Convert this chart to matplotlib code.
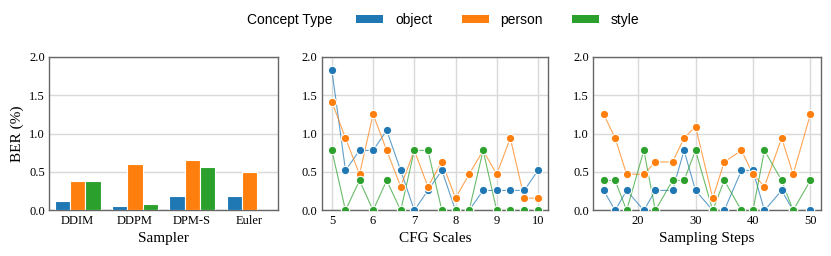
import matplotlib
matplotlib.use("Agg")
import matplotlib.pyplot as plt
import numpy as np
from matplotlib.patches import Patch

# concept types / colours
concepts = ["object", "person", "style"]
colors = ["#1f77b4", "#ff7f0e", "#2ca02c"]

# panel 1: samplers
samplers = ["DDIM", "DDPM", "DPM-S", "Euler"]
sampler_object = [0.12, 0.06, 0.19, 0.19]
sampler_person = [0.38, 0.61, 0.65, 0.50]
sampler_style = [0.38, 0.09, 0.57, 0.0]

# panel 2: CFG scales
cfg = [5.0, 5.33, 5.67, 6.0, 6.33, 6.67, 7.0, 7.33, 7.67, 8.0, 8.33, 8.67, 9.0, 9.33, 9.67, 10.0]
cfg_object = [1.82, 0.52, 0.78, 0.78, 1.04, 0.52, 0.0, 0.26, 0.52, 0.0, 0.0, 0.26, 0.26, 0.26, 0.26, 0.52]
cfg_person = [1.41, 0.94, 0.47, 1.25, 0.78, 0.31, 0.78, 0.31, 0.63, 0.16, 0.47, 0.78, 0.47, 0.94, 0.16, 0.16]
cfg_style = [0.78, 0.0, 0.39, 0.0, 0.39, 0.0, 0.78, 0.78, 0.0, 0.0, 0.0, 0.78, 0.0, 0.0, 0.0, 0.0]

# panel 3: sampling steps
steps = [14, 16, 18, 21, 23, 26, 28, 30, 33, 35, 38, 40, 42, 45, 47, 50]
steps_object = [0.26, 0.0, 0.26, 0.0, 0.26, 0.26, 0.78, 0.26, 0.0, 0.0, 0.52, 0.52, 0.0, 0.26, 0.0, 0.0]
steps_person = [1.25, 0.94, 0.47, 0.47, 0.63, 0.63, 0.94, 1.09, 0.16, 0.63, 0.78, 0.47, 0.31, 0.94, 0.47, 1.25]
steps_style = [0.39, 0.39, 0.0, 0.78, 0.0, 0.39, 0.39, 0.78, 0.0, 0.39, 0.0, 0.0, 0.78, 0.39, 0.0, 0.39]

serif = ["Liberation Serif", "DejaVu Serif"]
plt.rcParams["font.family"] = serif
plt.rcParams["axes.edgecolor"] = "0.4"
plt.rcParams["axes.linewidth"] = 1.0

fig = plt.figure(figsize=(8.31, 2.56), dpi=100)
bottom, height = 0.178, 0.601
ax1 = fig.add_axes([0.059, bottom, 0.2756, height])
ax2 = fig.add_axes([0.387, bottom, 0.2727, height])
ax3 = fig.add_axes([0.714, bottom, 0.2736, height])

# bars
x = np.arange(len(samplers))
w = 0.8 / 3
for i, vals in enumerate([sampler_object, sampler_person, sampler_style]):
    ax1.bar(x + (i - 1) * w, vals, width=w, color=colors[i], edgecolor="white",
            linewidth=0.8, zorder=3)
ax1.set_xticks(x)
ax1.set_xticklabels(samplers)
ax1.set_xlim(-0.5, len(samplers) - 0.5)
ax1.set_xlabel("Sampler", fontsize=11)
ax1.set_ylabel("BER (%)", fontsize=11)
ax1.grid(axis="y", color="0.85", linewidth=1.0, zorder=0)

def line_panel(ax, xs, series, label):
    for vals, c in zip(series, colors):
        ax.plot(xs, vals, color=c, linewidth=0.8, alpha=0.7, zorder=3)
        ax.plot(xs, vals, linestyle="none", marker="o", markersize=6,
                markerfacecolor=c, markeredgecolor="white", markeredgewidth=0.8, zorder=4)
    ax.set_xlabel(label, fontsize=11)
    ax.grid(color="0.85", linewidth=1.0, zorder=0)

line_panel(ax2, cfg, [cfg_object, cfg_person, cfg_style], "CFG Scales")
ax2.set_xticks([5, 6, 7, 8, 9, 10])
line_panel(ax3, steps, [steps_object, steps_person, steps_style], "Sampling Steps")
ax3.set_xticks([20, 30, 40, 50])

for ax in (ax1, ax2, ax3):
    ax.set_ylim(0, 2.0)
    ax.set_yticks([0.0, 0.5, 1.0, 1.5, 2.0])
    ax.set_yticklabels(["0.0", "0.5", "1.0", "1.5", "2.0"])
    ax.tick_params(length=0, labelsize=9, pad=3)
    ax.set_axisbelow(True)

sans = ["Liberation Sans", "DejaVu Sans"]
fig.text(247 / 831, 1 - 20 / 256, "Concept Type", fontsize=10, family=sans,
         ha="left", va="center")
handles = [Patch(facecolor=c, edgecolor="none") for c in colors]
fig.legend(handles, concepts, loc="center", bbox_to_anchor=(498 / 831, 1 - 20 / 256),
           ncol=3, frameon=False, prop={"family": sans, "size": 10},
           handlelength=1.95, handleheight=0.5, handletextpad=0.85, columnspacing=2.1,
           borderpad=0.0)

fig.savefig("out.png", dpi=100)
